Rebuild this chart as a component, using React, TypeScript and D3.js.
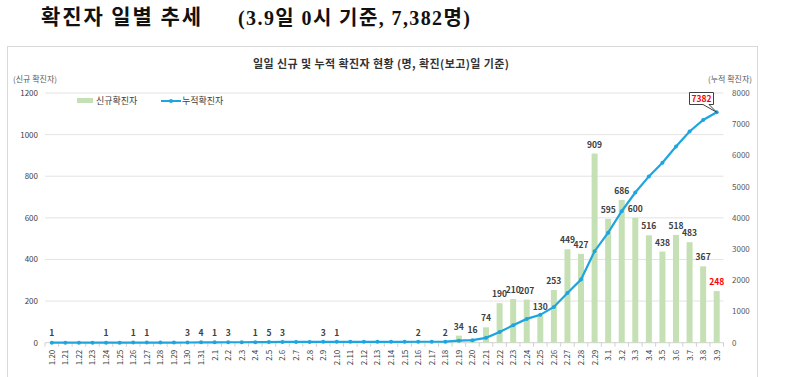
import React from "react";
import * as d3 from "d3";

const dates = [
  "1.20","1.21","1.22","1.23","1.24","1.25","1.26","1.27","1.28","1.29","1.30","1.31",
  "2.1","2.2","2.3","2.4","2.5","2.6","2.7","2.8","2.9","2.10","2.11","2.12","2.13","2.14","2.15","2.16","2.17","2.18","2.19","2.20","2.21","2.22","2.23","2.24","2.25","2.26","2.27","2.28","2.29",
  "3.1","3.2","3.3","3.4","3.5","3.6","3.7","3.8","3.9"
];
const daily = [
  1,0,0,0,1,0,1,1,0,0,3,4,
  1,3,0,1,5,3,0,0,3,1,0,0,0,0,0,2,0,2,34,16,74,190,210,207,130,253,449,427,909,
  595,686,600,516,438,518,483,367,248
];
const cumulative = [
  1,1,1,1,2,2,3,4,4,4,7,11,
  12,15,15,16,21,24,24,24,27,28,28,28,28,28,28,30,30,32,66,82,156,346,556,763,893,1146,1595,2022,2931,
  3526,4212,4812,5328,5766,6284,6767,7134,7382
];
const leftTicks = [0, 200, 400, 600, 800, 1000, 1200];
const rightTicks = [0, 1000, 2000, 3000, 4000, 5000, 6000, 7000, 8000];

const KR = "'Noto Sans CJK KR', 'Noto Sans', sans-serif";

export default function App() {
  const W = 785, H = 377;
  const x0 = 45, x1 = 723.5, yTop = 93, yBot = 342.7;
  const x = d3.scaleBand<string>().domain(dates).range([x0, x1]).paddingInner(0).paddingOuter(0);
  const yL = d3.scaleLinear().domain([0, 1200]).range([yBot, yTop]);
  const yR = d3.scaleLinear().domain([0, 8000]).range([yBot, yTop]);
  const cx = (d: string) => (x(d) as number) + x.bandwidth() / 2;
  const barW = 6;
  const line = d3.line<number>().x((_, i) => cx(dates[i])).y((v) => yR(v));
  const lastI = dates.length - 1;
  const px = cx(dates[lastI]), py = yR(cumulative[lastI]);

  return (
    <svg width={W} height={H} style={{ position: "absolute", left: 0, top: 0, background: "#fff" }}>
      <rect x={0} y={0} width={W} height={H} fill="#fff" />
      {/* Main title */}
      <text x={41} y={24} fontFamily={KR} fontWeight={700} fontSize={21} fill="#111" textLength={160} lengthAdjust="spacing">확진자 일별 추세</text>
      <text x={238} y={25} fontFamily={"'Liberation Serif', 'Noto Sans CJK KR', serif"} fontWeight={700} fontSize={20} fill="#111" textLength={232} lengthAdjust="spacing">(3.9일 0시 기준, 7,382명)</text>

      {/* frame */}
      <rect x={7.5} y={46.5} width={750} height={340} fill="#fff" stroke="#d9d9d9" strokeWidth={1} />

      <text x={253} y={68} fontFamily={KR} fontWeight={700} fontSize={11} fill="#333" textLength={256} lengthAdjust="spacing">일일 신규 및 누적 확진자 현황 (명, 확진(보고)일 기준)</text>
      <text x={13} y={82} fontFamily={KR} fontSize={8} fill="#595959">(신규 확진자)</text>
      <text x={752} y={82} textAnchor="end" fontFamily={KR} fontSize={8} fill="#595959">(누적 확진자)</text>

      {/* grid */}
      {leftTicks.map((t) => (
        <line key={"g" + t} x1={x0} x2={x1} y1={yL(t)} y2={yL(t)} stroke={t === 0 ? "#d0d0d0" : "#e3e3e3"} strokeWidth={1} />
      ))}
      {leftTicks.map((t) => (
        <text key={"l" + t} x={38} y={yL(t) + 3} textAnchor="end" fontFamily={KR} fontSize={8} fill="#404040">{t}</text>
      ))}
      {rightTicks.map((t) => (
        <text key={"r" + t} x={732} y={yR(t) + 3} fontFamily={KR} fontSize={8} fill="#595959">{t}</text>
      ))}
      {/* x tick marks */}
      {dates.map((d) => (
        <line key={"t" + d} x1={x(d) as number} x2={x(d) as number} y1={yBot} y2={yBot + 4} stroke="#d0d0d0" />
      ))}
      <line x1={x1} x2={x1} y1={yBot} y2={yBot + 4} stroke="#d0d0d0" />

      {/* bars */}
      {daily.map((v, i) => (
        <rect key={"b" + i} x={cx(dates[i]) - barW / 2} y={yL(v)} width={barW} height={yBot - yL(v)} fill="#c5e0b4" />
      ))}

      {/* line */}
      <path d={line(cumulative) || ""} fill="none" stroke="#1ea5e0" strokeWidth={2.2} />
      {cumulative.map((v, i) => (
        <circle key={"p" + i} cx={cx(dates[i])} cy={yR(v)} r={2} fill="#1ea5e0" />
      ))}

      {/* bar labels */}
      {daily.map((v, i) =>
        v > 0 ? (
          <text key={"v" + i} x={cx(dates[i])} y={yL(v) - 6} textAnchor="middle" fontFamily={KR} fontWeight={700}
            fontSize={8.5} fill={i === lastI ? "#ff0000" : "#404040"}>{v}</text>
        ) : null
      )}

      {/* x labels */}
      {dates.map((d) => (
        <text key={"x" + d} transform={`translate(${cx(d) + 3},${yBot + 7}) rotate(-90)`} textAnchor="end"
          fontFamily={KR} fontSize={8} fill="#404040">{d}</text>
      ))}

      {/* legend */}
      <rect x={77} y={98} width={16} height={5} fill="#c5e0b4" />
      <text x={96} y={104} fontFamily={KR} fontSize={9} fill="#404040">신규확진자</text>
      <line x1={161} x2={181} y1={101} y2={101} stroke="#1ea5e0" strokeWidth={2} />
      <circle cx={171} cy={101} r={2} fill="#1ea5e0" />
      <text x={182} y={104} fontFamily={KR} fontSize={9} fill="#404040">누적확진자</text>

      {/* callout */}
      <path d={`M689.5,92.5 H713.5 V104.5 H709 L${px},${py} L703,104.5 H689.5 Z`} fill="#fff" stroke="#404040" strokeWidth={1} />
      <text x={701.5} y={101.5} textAnchor="middle" fontFamily={KR} fontWeight={700} fontSize={8.5} fill="#ff0000">7382</text>
    </svg>
  );
}
